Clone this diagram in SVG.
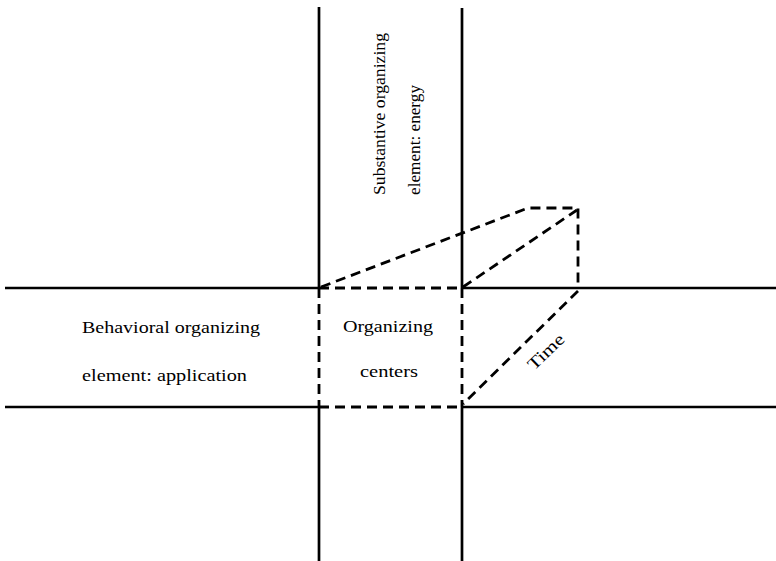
<svg xmlns="http://www.w3.org/2000/svg" width="776" height="561" viewBox="0 0 776 561">
<style>
.solid{stroke:#000;stroke-width:2.7;fill:none}
.dash{stroke:#000;stroke-width:2.8;fill:none;stroke-dasharray:10 6}
.t{font-family:"Liberation Serif","Times New Roman",serif;font-size:17px;fill:#000}
</style>
<rect width="776" height="561" fill="#fff"/>
<g id="axes">
<line class="solid" x1="319" y1="7" x2="319" y2="288"/>
<line class="solid" x1="319" y1="407" x2="319" y2="561"/>
<line class="solid" x1="462" y1="8" x2="462" y2="288"/>
<line class="solid" x1="462" y1="407" x2="462" y2="561"/>
<line class="solid" x1="5" y1="288" x2="319" y2="288"/>
<line class="solid" x1="462" y1="288" x2="776" y2="288"/>
<line class="solid" x1="5" y1="407" x2="319" y2="407"/>
<line class="solid" x1="462" y1="407" x2="776" y2="407"/>
</g>
<g id="connectors">
<line class="dash" x1="319" y1="288" x2="462" y2="288"/>
<line class="dash" x1="319" y1="407" x2="462" y2="407"/>
<line class="dash" x1="319" y1="288" x2="319" y2="407"/>
<line class="dash" x1="462" y1="288" x2="462" y2="407"/>
<polyline class="dash" points="321,287 528,208 578,208 578,288"/>
<line class="dash" x1="463" y1="287" x2="577" y2="210"/>
<line class="dash" x1="578" y1="291" x2="463" y2="404"/>
</g>
<g id="behavioral">
<text class="t" x="82" y="333" textLength="178" lengthAdjust="spacingAndGlyphs">Behavioral organizing</text>
<text class="t" x="82" y="381" textLength="165" lengthAdjust="spacingAndGlyphs">element: application</text>
</g>
<g id="centers">
<text class="t" x="343" y="332" textLength="90" lengthAdjust="spacingAndGlyphs">Organizing</text>
<text class="t" x="360" y="377" textLength="58" lengthAdjust="spacingAndGlyphs">centers</text>
</g>
<g id="substantive">
<text class="t" transform="translate(385,195) rotate(-90)" textLength="162" lengthAdjust="spacingAndGlyphs">Substantive organizing</text>
<text class="t" transform="translate(420,195) rotate(-90)" textLength="110" lengthAdjust="spacingAndGlyphs">element: energy</text>
</g>
<g id="time">
<text class="t" transform="translate(534,371) rotate(-44)" textLength="44" lengthAdjust="spacingAndGlyphs">Time</text>
</g>
</svg>
